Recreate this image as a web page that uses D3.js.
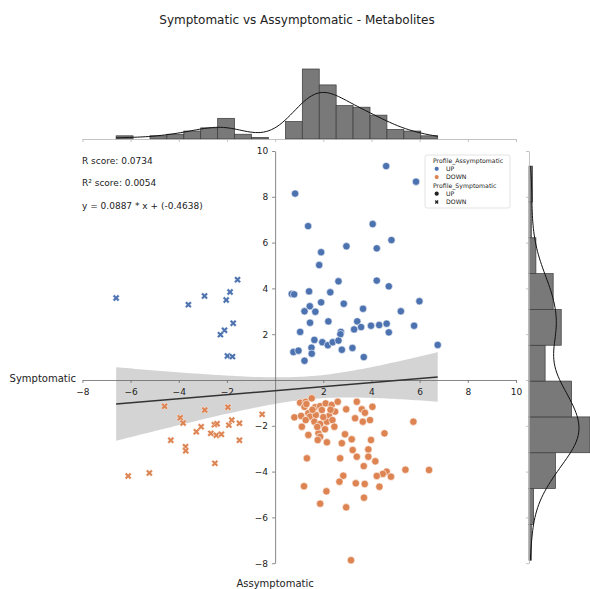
<!DOCTYPE html>
<html>
<head>
<meta charset="utf-8">
<script src="https://cdn.jsdelivr.net/npm/d3@7"></script>
<style>
body { margin: 0; background: #fff; }
text { font-family: "DejaVu Sans", sans-serif; fill: #222; }
</style>
</head>
<body>
<script>
// données : [Assymptomatic, Symptomatic]
const upCircle = [[4.61,9.34],[5.85,8.66],[0.83,8.14],[1.37,6.72],[4.05,6.81],[4.83,6.11],[2.96,5.84],[4.22,5.75],[1.91,5.58],[1.83,5.02],[2.63,4.31],[4.22,4.34],[4.72,4.09],[0.69,3.76],[0.79,3.74],[1.41,3.87],[2.29,3.83],[1.91,3.39],[2.85,3.33],[5.99,3.44],[1.44,3.22],[1.22,3.00],[1.67,2.98],[3.65,3.11],[5.22,3.00],[1.45,2.50],[2.21,2.56],[3.41,2.56],[3.57,2.31],[3.28,2.21],[3.98,2.37],[4.32,2.40],[4.63,2.46],[5.77,2.37],[1.04,2.10],[2.73,2.10],[2.71,2.00],[4.72,2.08],[1.63,1.75],[1.96,1.65],[2.19,1.52],[2.39,1.65],[2.63,1.72],[1.51,1.41],[2.77,1.32],[3.21,1.40],[0.76,1.22],[0.97,1.28],[1.52,1.15],[1.22,0.84],[3.68,1.00],[6.75,1.53]];
const upCross = [[-6.60,3.58],[-3.60,3.29],[-2.93,3.67],[-2.03,3.49],[-1.87,3.84],[-1.56,4.38],[-1.74,2.48],[-2.10,2.17],[-2.27,1.98],[-1.98,1.05],[-1.77,1.02]];
const downCircle = [[1.04,-0.99],[1.27,-0.95],[1.52,-0.80],[1.22,-1.17],[1.66,-1.19],[1.87,-1.14],[2.10,-1.02],[2.35,-1.09],[2.60,-0.95],[3.39,-0.95],[4.04,-1.17],[0.80,-1.63],[1.08,-1.57],[1.38,-1.45],[1.45,-1.60],[1.69,-1.53],[1.94,-1.31],[2.24,-1.57],[2.49,-1.38],[2.95,-1.28],[3.60,-1.28],[3.73,-1.43],[1.27,-1.75],[1.63,-1.82],[1.87,-1.92],[2.15,-1.82],[2.38,-1.75],[3.32,-1.67],[3.64,-1.82],[3.94,-1.75],[1.11,-2.04],[2.07,-2.15],[2.46,-2.04],[1.80,-2.33],[1.38,-2.40],[2.90,-2.37],[4.54,-2.33],[1.87,-2.48],[1.77,-2.62],[2.15,-2.72],[3.18,-2.59],[3.98,-2.62],[2.77,-2.76],[3.22,-3.06],[3.87,-3.03],[1.32,-3.42],[2.70,-3.42],[3.39,-3.35],[3.87,-3.35],[5.74,-1.82],[4.16,-3.55],[3.68,-3.76],[5.41,-3.92],[6.39,-3.93],[4.63,-4.00],[4.47,-4.10],[4.22,-4.19],[4.81,-4.22],[2.83,-4.18],[2.67,-4.44],[3.35,-4.51],[3.72,-4.54],[4.33,-4.66],[1.20,-4.64],[2.13,-4.86],[3.69,-5.14],[1.87,-5.40],[2.95,-5.56],[3.15,-7.87],[1.55,-1.30],[2.00,-1.62],[1.30,-1.05],[2.30,-1.30],[1.75,-2.05]];
const downCross = [[-4.59,-1.15],[-3.94,-1.65],[-3.82,-1.88],[-2.92,-1.31],[-1.96,-1.19],[-0.54,-1.50],[-3.27,-2.26],[-3.07,-2.04],[-2.67,-2.33],[-2.52,-1.95],[-2.41,-1.91],[-2.44,-2.41],[-2.23,-2.37],[-1.92,-1.97],[-1.80,-1.75],[-1.48,-1.89],[-4.33,-2.63],[-1.48,-2.63],[-3.72,-2.91],[-3.71,-3.09],[-2.50,-3.64],[-6.10,-4.19],[-5.22,-4.06]];

// histogrammes marginaux (effectifs)
const xHistCounts = [2,0,2,3,5,7,13,3,1,0,11,44,34,21,20,15,6,5,2];
const yHistCounts = [2,4,23,53,37,14,28,21,6,2,3];

const ticks = [-8,-6,-4,-2,0,2,4,6,8,10];
const rScore = 0.0734, r2Score = 0.0054, slope = 0.0887, intercept = -0.4638;

const colorUp = "#4c72b0", colorDown = "#dd8452";

let svg = d3.select("body").append("svg")
    .attr("width", 590)
    .attr("height", 589);

//Échelles
let x = d3.scaleLinear().domain([-8, 10]).range([82.4, 516]);
let y = d3.scaleLinear().domain([-8, 10]).range([563.2, 151]);

let topBase = 139, rightBase = 529;
let cTop = d3.scaleLinear().domain([0, 44]).range([topBase, 69]);
let cRight = d3.scaleLinear().domain([0, 53]).range([rightBase, 590]);

let all = upCircle.concat(upCross, downCircle, downCross);
let xExt = d3.extent(all, d => d[0]);
let yExt = d3.extent(all, d => d[1]);
let xbw = (xExt[1] - xExt[0]) / xHistCounts.length;
let ybw = (yExt[1] - yExt[0]) / yHistCounts.length;

//Titre
svg.append("text")
    .attr("x", 297).attr("y", 24)
    .attr("text-anchor", "middle")
    .style("font-size", "12px")
    .text("Symptomatic vs Assymptomatic - Metabolites");

// bande de confiance de la régression
let n = all.length;
let xm = d3.mean(all, d => d[0]);
let sxx = d3.sum(all, d => (d[0] - xm) ** 2);
let s = Math.sqrt(d3.sum(all, d => (d[1] - (slope * d[0] + intercept)) ** 2) / (n - 2));
let grid = d3.range(101).map(i => xExt[0] + i * (xExt[1] - xExt[0]) / 100);
let band = grid.map(g => {
    let fit = slope * g + intercept;
    let h = 1.97 * s * Math.sqrt(1 / n + (g - xm) ** 2 / sxx);
    return [g, fit - h, fit + h];
});

svg.append("path")
    .datum(band)
    .attr("fill", "#d4d4d4")
    .attr("d", d3.area().x(d => x(d[0])).y0(d => y(d[1])).y1(d => y(d[2])));

//Axes principaux
let gx = svg.append("g")
    .attr("transform", "translate(0," + y(0) + ")")
    .call(d3.axisBottom(x).tickValues(ticks.filter(t => t !== 0)).tickSize(3).tickSizeOuter(0).tickPadding(6));
let gy = svg.append("g")
    .attr("transform", "translate(" + x(0) + ",0)")
    .call(d3.axisLeft(y).tickValues(ticks.filter(t => t !== 0)).tickSize(3).tickSizeOuter(0).tickPadding(4));
[gx, gy].forEach(g => {
    g.selectAll("path, line").attr("stroke", "#6a6a6a").attr("stroke-width", 0.8);
    g.selectAll("text").style("font-size", "9px").style("font-family", "DejaVu Sans").attr("fill", "#222");
});

// droite de régression
svg.append("line")
    .attr("x1", x(xExt[0])).attr("y1", y(slope * xExt[0] + intercept))
    .attr("x2", x(xExt[1])).attr("y2", y(slope * xExt[1] + intercept))
    .attr("stroke", "#333").attr("stroke-width", 1.5);

//Points
let cross = d3.symbol(d3.symbolCross, 30);
function dots(data, color) {
    svg.append("g").selectAll("circle")
        .data(data).enter().append("circle")
        .attr("cx", d => x(d[0])).attr("cy", d => y(d[1]))
        .attr("r", 3.7)
        .attr("fill", color).attr("stroke", "#fff").attr("stroke-width", 0.6);
}
function crosses(data, color) {
    svg.append("g").selectAll("path")
        .data(data).enter().append("path")
        .attr("d", cross)
        .attr("transform", d => "translate(" + x(d[0]) + "," + y(d[1]) + ") rotate(45)")
        .attr("fill", color).attr("stroke", "#fff").attr("stroke-width", 0.4);
}
dots(upCircle, colorUp);
crosses(upCross, colorUp);
dots(downCircle, colorDown);
crosses(downCross, colorDown);

//Histogramme du haut
svg.append("g").selectAll("rect")
    .data(xHistCounts.map((c, i) => ({ c: c, x0: xExt[0] + i * xbw })).filter(d => d.c > 0))
    .enter().append("rect")
    .attr("x", d => x(d.x0)).attr("width", d => x(d.x0 + xbw) - x(d.x0))
    .attr("y", d => cTop(d.c)).attr("height", d => topBase - cTop(d.c))
    .attr("fill", "#797979").attr("stroke", "#3a3a3a").attr("stroke-width", 0.7);

//Histogramme de droite
svg.append("g").selectAll("rect")
    .data(yHistCounts.map((c, i) => ({ c: c, y0: yExt[0] + i * ybw })).filter(d => d.c > 0))
    .enter().append("rect")
    .attr("x", rightBase).attr("width", d => cRight(d.c) - rightBase)
    .attr("y", d => y(d.y0 + ybw)).attr("height", d => y(d.y0) - y(d.y0 + ybw))
    .attr("fill", "#797979").attr("stroke", "#3a3a3a").attr("stroke-width", 0.7);

// kde à partir des effectifs
function kde(counts, lo, bw, pts) {
    let centers = counts.map((c, i) => lo + (i + 0.5) * bw);
    let tot = d3.sum(counts);
    let m = d3.sum(centers, (c, i) => c * counts[i]) / tot;
    let sd = Math.sqrt(d3.sum(centers, (c, i) => counts[i] * (c - m) ** 2) / (tot - 1));
    let h = sd * Math.pow(tot, -0.2);
    return pts.map(p => [p, bw * d3.sum(centers, (c, i) => counts[i] * Math.exp(-0.5 * ((p - c) / h) ** 2)) / (h * Math.sqrt(2 * Math.PI))]);
}
let xGrid = d3.range(121).map(i => xExt[0] + i * (xExt[1] - xExt[0]) / 120);
let yGrid = d3.range(121).map(i => yExt[0] + i * (yExt[1] - yExt[0]) / 120);

svg.append("path")
    .datum(kde(xHistCounts, xExt[0], xbw, xGrid))
    .attr("fill", "none").attr("stroke", "#111").attr("stroke-width", 1)
    .attr("d", d3.line().x(d => x(d[0])).y(d => cTop(d[1])));
svg.append("path")
    .datum(kde(yHistCounts, yExt[0], ybw, yGrid))
    .attr("fill", "none").attr("stroke", "#111").attr("stroke-width", 1)
    .attr("d", d3.line().x(d => cRight(d[1])).y(d => y(d[0])));

// axes des marges
let gt = svg.append("g")
    .attr("transform", "translate(0," + topBase + ")")
    .call(d3.axisBottom(x).tickValues(ticks).tickSize(3).tickSizeOuter(0).tickFormat(""));
let gr = svg.append("g")
    .attr("transform", "translate(" + rightBase + ",0)")
    .call(d3.axisLeft(y).tickValues(ticks).tickSize(3).tickSizeOuter(0).tickFormat(""));
[gt, gr].forEach(g => g.selectAll("path, line").attr("stroke", "#b5b5b5").attr("stroke-width", 0.8));

//Labels
svg.append("text")
    .attr("x", 76).attr("y", 382)
    .attr("text-anchor", "end")
    .style("font-size", "10px")
    .text("Symptomatic");
svg.append("text")
    .attr("x", x(0)).attr("y", 587)
    .attr("text-anchor", "middle")
    .style("font-size", "10px")
    .text("Assymptomatic");

// scores
let notes = ["R score: " + rScore.toFixed(4), "R² score: " + r2Score.toFixed(4), "y = " + slope + " * x + (" + intercept + ")"];
svg.selectAll(".note")
    .data(notes).enter().append("text")
    .attr("class", "note")
    .attr("x", 82).attr("y", (d, i) => 163.5 + i * 22.6)
    .style("font-size", "9px")
    .text(d => d);

//Légende
let leg = svg.append("g").attr("transform", "translate(425,155)");
leg.append("rect")
    .attr("width", 85).attr("height", 53).attr("rx", 2)
    .attr("fill", "#fff").attr("stroke", "#dcdcdc").attr("stroke-width", 0.8);
let rows = [
    { t: "Profile_Assymptomatic", head: true },
    { t: "UP", m: "circle", c: colorUp },
    { t: "DOWN", m: "circle", c: colorDown },
    { t: "Profile_Symptomatic", head: true },
    { t: "UP", m: "circle", c: "#222" },
    { t: "DOWN", m: "cross", c: "#222" }
];
rows.forEach((r, i) => {
    let yy = 5.5 + i * 8.3;
    leg.append("text")
        .attr("x", r.head ? 8 : 21).attr("y", yy + 2.2)
        .style("font-size", "6.2px")
        .text(r.t);
    if (r.m === "circle") {
        leg.append("circle").attr("cx", 11.7).attr("cy", yy).attr("r", 2.1).attr("fill", r.c);
    } else if (r.m === "cross") {
        leg.append("path").attr("d", d3.symbol(d3.symbolCross, 9))
            .attr("transform", "translate(11.7," + yy + ") rotate(45)").attr("fill", r.c);
    }
});
</script>
</body>
</html>
